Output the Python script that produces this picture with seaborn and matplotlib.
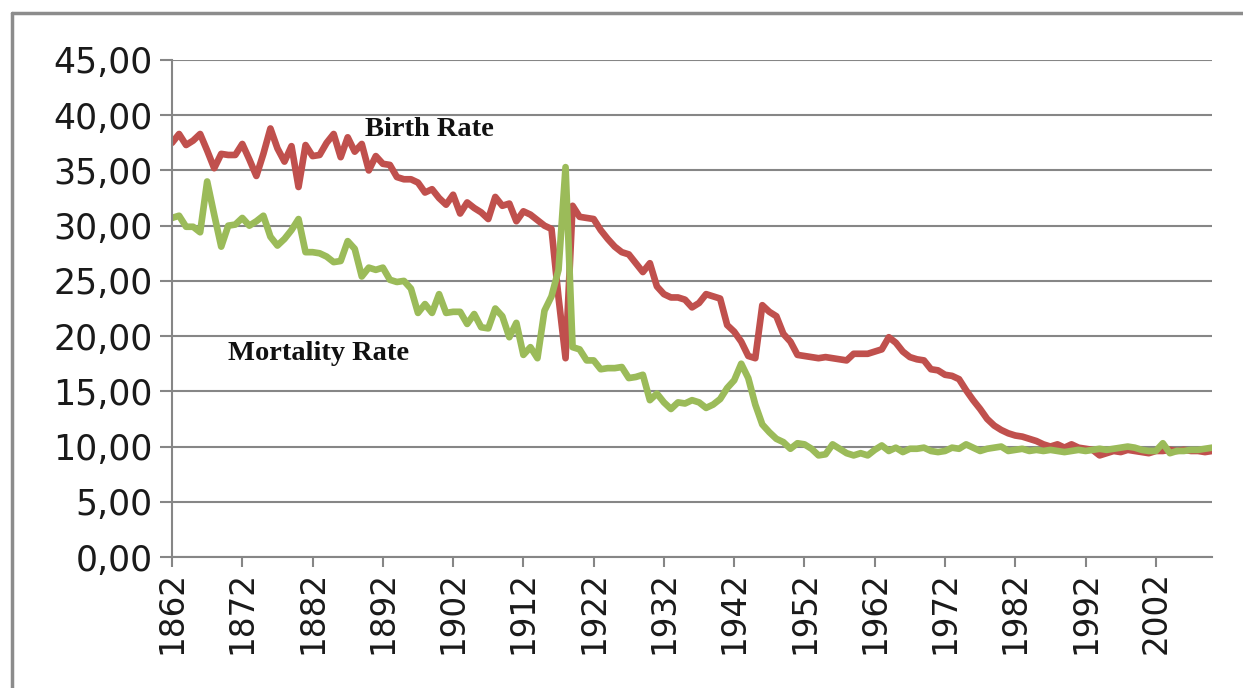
import pandas as pd
import numpy as np
import seaborn as sns
import matplotlib.pyplot as plt
from matplotlib.ticker import FuncFormatter
from matplotlib.lines import Line2D

# yearly categories 1862..2010
years = list(range(1862, 2011))

birth_rate = [
    37.5, 38.3, 37.3, 37.7, 38.3, 36.8, 35.2, 36.5, 36.4, 36.4,  # 1862-1871
    37.4, 36.0, 34.5, 36.5, 38.8, 37.0, 35.8, 37.2, 33.5, 37.3,  # 1872-1881
    36.3, 36.4, 37.5, 38.3, 36.2, 38.0, 36.7, 37.4, 35.0, 36.3,  # 1882-1891
    35.6, 35.5, 34.4, 34.2, 34.2, 33.9, 33.0, 33.3, 32.5, 31.9,  # 1892-1901
    32.8, 31.1, 32.1, 31.6, 31.2, 30.6, 32.6, 31.8, 32.0, 30.4,  # 1902-1911
    31.3, 31.0, 30.5, 30.0, 29.7, 23.5, 18.0, 31.8, 30.8, 30.7,  # 1912-1921
    30.6, 29.6, 28.8, 28.1, 27.6, 27.4, 26.6, 25.8, 26.6, 24.5,  # 1922-1931
    23.8, 23.5, 23.5, 23.3, 22.6, 23.0, 23.8, 23.6, 23.4, 21.0,  # 1932-1941
    20.4, 19.5, 18.2, 18.0, 22.8, 22.2, 21.8, 20.2, 19.5, 18.3,  # 1942-1951
    18.2, 18.1, 18.0, 18.1, 18.0, 17.9, 17.8, 18.4, 18.4, 18.4,  # 1952-1961
    18.6, 18.8, 19.9, 19.4, 18.6, 18.1, 17.9, 17.8, 17.0, 16.9,  # 1962-1971
    16.5, 16.4, 16.1, 15.1, 14.2, 13.4, 12.5, 11.9, 11.5, 11.2,  # 1972-1981
    11.0, 10.9, 10.7, 10.5, 10.2, 10.0, 10.2, 9.9, 10.2, 9.9,    # 1982-1991
    9.8, 9.7, 9.2, 9.4, 9.6, 9.5, 9.7, 9.6, 9.5, 9.4,            # 1992-2001
    9.6, 9.6, 9.7, 9.6, 9.7, 9.6, 9.6, 9.5, 9.6,                 # 2002-2010
]

mortality_rate = [
    30.7, 30.9, 29.9, 29.9, 29.4, 34.0, 31.0, 28.1, 30.0, 30.1,  # 1862-1871
    30.7, 30.0, 30.4, 30.9, 29.0, 28.2, 28.8, 29.6, 30.6, 27.6,  # 1872-1881
    27.6, 27.5, 27.2, 26.7, 26.8, 28.6, 27.9, 25.4, 26.2, 26.0,  # 1882-1891
    26.2, 25.1, 24.9, 25.0, 24.3, 22.1, 22.9, 22.1, 23.8, 22.1,  # 1892-1901
    22.2, 22.2, 21.1, 22.0, 20.8, 20.7, 22.5, 21.8, 19.9, 21.2,  # 1902-1911
    18.3, 19.0, 18.0, 22.3, 23.6, 26.0, 35.3, 19.0, 18.8, 17.8,  # 1912-1921
    17.8, 17.0, 17.1, 17.1, 17.2, 16.2, 16.3, 16.5, 14.2, 14.8,  # 1922-1931
    14.0, 13.4, 14.0, 13.9, 14.2, 14.0, 13.5, 13.8, 14.3, 15.3,  # 1932-1941
    16.0, 17.5, 16.2, 13.8, 12.0, 11.3, 10.7, 10.4, 9.8, 10.3,   # 1942-1951
    10.2, 9.8, 9.2, 9.3, 10.2, 9.8, 9.4, 9.2, 9.4, 9.2,          # 1952-1961
    9.7, 10.1, 9.6, 9.9, 9.5, 9.8, 9.8, 9.9, 9.6, 9.5,           # 1962-1971
    9.6, 9.9, 9.8, 10.2, 9.9, 9.6, 9.8, 9.9, 10.0, 9.6,          # 1972-1981
    9.7, 9.8, 9.6, 9.7, 9.6, 9.7, 9.6, 9.5, 9.6, 9.7,            # 1982-1991
    9.6, 9.7, 9.8, 9.7, 9.8, 9.9, 10.0, 9.9, 9.7, 9.6,           # 1992-2001
    9.6, 10.3, 9.4, 9.6, 9.6, 9.7, 9.7, 9.8, 9.9,                # 2002-2010
]

tick_years = [1862, 1872, 1882, 1892, 1902, 1912, 1922, 1932,
              1942, 1952, 1962, 1972, 1982, 1992, 2002]

df = pd.DataFrame({
    'Year': years * 2,
    'Rate': birth_rate + mortality_rate,
    'Series': ['Birth Rate'] * len(years) + ['Mortality Rate'] * len(years),
})

sns.set_style('white')
plt.rcParams['font.family'] = ['DejaVu Sans']

grey = '#868686'
fig = plt.figure(figsize=(12.43, 6.88), dpi=100)
ax = fig.add_axes([0.1384, 0.1904, 0.9751 - 0.1384, 0.9128 - 0.1904])

sns.lineplot(data=df, x='Year', y='Rate', hue='Series',
             hue_order=['Birth Rate', 'Mortality Rate'],
             palette=['#C0504D', '#9BBB59'], linewidth=4.8, legend=False, ax=ax)

ax.set_xlim(1862, 2010)
ax.set_ylim(0, 45)
ax.set_yticks(np.arange(0, 46, 5))
ax.yaxis.set_major_formatter(FuncFormatter(lambda v, p: f'{v:.2f}'.replace('.', ',')))
ax.set_xticks(tick_years)
ax.set_xticklabels([str(y) for y in tick_years], rotation=90)
ax.set_xlabel('')
ax.set_ylabel('')

ax.grid(axis='y', color=grey, linewidth=1.5)
ax.set_axisbelow(True)
for s in ['top', 'right']:
    ax.spines[s].set_visible(False)
for s in ['left', 'bottom']:
    ax.spines[s].set_color(grey)
    ax.spines[s].set_linewidth(1.5)
ax.tick_params(axis='both', left=True, bottom=True, colors=grey, labelcolor='#1a1a1a')
ax.tick_params(axis='y', length=9, width=1.5, labelsize=25, pad=5)
ax.tick_params(axis='x', length=7, width=1.5, labelsize=23.5, pad=3)

ax.text(1889.5, 38.1, 'Birth Rate', family='Liberation Serif', fontweight='bold',
        fontsize=20.5, va='baseline', ha='left', color='#111111')
ax.text(1870.0, 17.8, 'Mortality Rate', family='Liberation Serif', fontweight='bold',
        fontsize=20.5, va='baseline', ha='left', color='#111111')

# outer chart frame (top and left edges)
fig.add_artist(Line2D([12 / 1243, 1], [1 - 13 / 688, 1 - 13 / 688],
                      color='#8c8c8c', linewidth=2.5, transform=fig.transFigure))
fig.add_artist(Line2D([12 / 1243, 12 / 1243], [0, 1 - 13 / 688],
                      color='#8c8c8c', linewidth=2.5, transform=fig.transFigure))

fig.savefig('out.png', dpi=100)
